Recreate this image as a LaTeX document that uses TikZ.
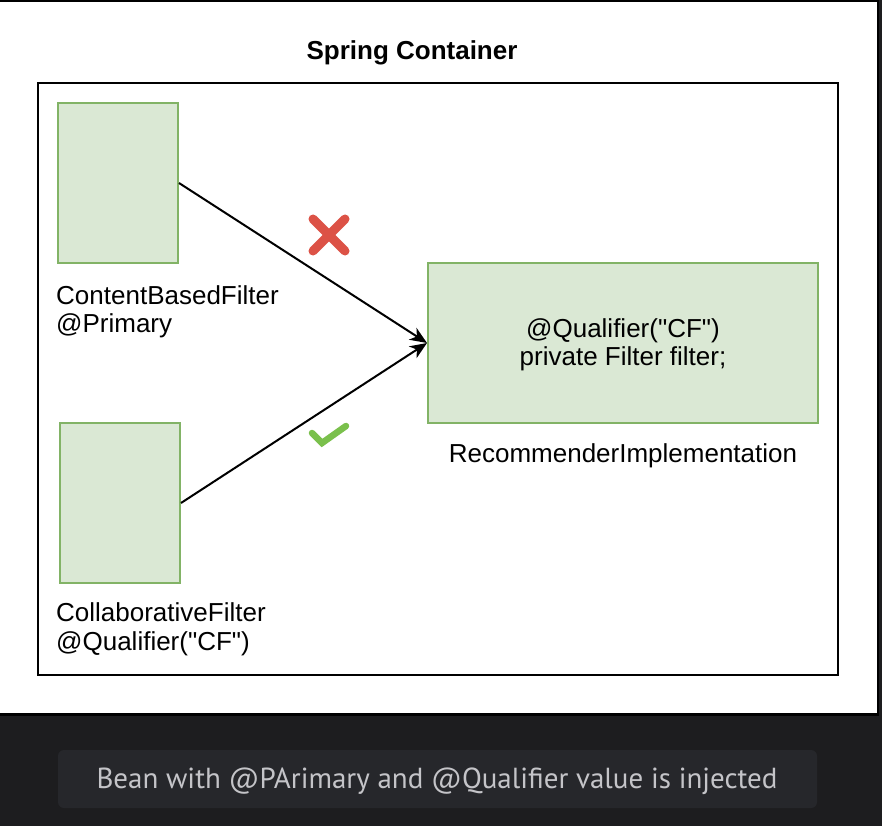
\documentclass[tikz,border=0pt]{standalone}
\usepackage{fontspec}
\setmainfont{Liberation Sans}[Ligatures=TeXOff]
\newfontfamily\captionfont{PT Sans}
\usetikzlibrary{arrows.meta,positioning}
\definecolor{beanfill}{HTML}{DAE8D4}
\definecolor{beanline}{HTML}{82B366}
\definecolor{crossred}{HTML}{DC5246}
\definecolor{tickgreen}{HTML}{7AC04C}
\definecolor{darkbg}{HTML}{1D1D1F}
\definecolor{barfill}{HTML}{26272B}
\definecolor{bartext}{HTML}{C4C4C8}
\begin{document}
\begin{tikzpicture}[x=1pt, y=-1pt,
  bean/.style={draw=beanline, fill=beanfill, line width=2pt, inner sep=0pt, minimum width=120pt, minimum height=160pt},
  lbl/.style={inner sep=0pt, align=left, font=\fontsize{26}{28.5}\selectfont},
  inject/.style={draw=black, line width=2pt, -{Stealth[length=17pt, width=14pt, inset=5pt]}}]
\useasboundingbox (0,0) rectangle (882,826);
\fill[darkbg] (0,0) rectangle (882,826);
\draw[fill=white, line width=2.6pt] (-5,0.5) rectangle (878,714.5);
\node[draw=black, line width=2pt, inner sep=0pt, minimum width=800pt, minimum height=592pt] (container) at (438,379) {};
\node[lbl, anchor=base, font=\fontsize{26}{28.5}\selectfont\bfseries] (title) at (412,60) {Spring Container};
\node[bean] (cbf) at (118,183) {};
\node[bean] (cf) at (120,503) {};
\node[bean, minimum width=390pt] (ri) at (623,343) {};
\node[lbl, align=center] (ritext) at (623,345) {@Qualifier("CF")\\private Filter filter;};
\node[lbl, anchor=north west] (cbflbl) at (56,285) {ContentBasedFilter\\@Primary};
\node[lbl, anchor=north west] (cflbl) at (56,602.5) {CollaborativeFilter\\@Qualifier("CF")};
\node[lbl, anchor=base] (rilbl) at (623,462) {RecommenderImplementation};
\draw[inject] (cbf.east) -- (ri.west);
\draw[inject] (cf.east) -- (ri.west);
\draw[crossred, line width=9pt, line cap=round] (313,219) -- (345,251);
\draw[crossred, line width=9pt, line cap=round] (345,219) -- (313,251);
\draw[tickgreen, line width=6.5pt, line cap=round] (312,433) -- (322,443) -- (346,426);
\node[fill=barfill, rounded corners=6pt, inner sep=0pt, minimum width=759pt, minimum height=58pt] (bar) at (437.5,779) {};
\node[anchor=base, inner sep=0pt, text=bartext, font=\captionfont\fontsize{29}{32}\selectfont] (caption) at (437,788) {Bean with @PArimary and @Qualifier value is injected};
\end{tikzpicture}
\end{document}
